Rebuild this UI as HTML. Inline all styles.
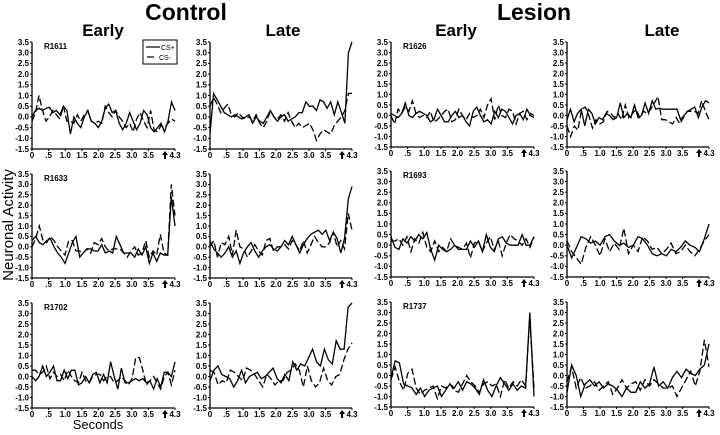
<!DOCTYPE html>
<html><head><meta charset="utf-8">
<style>
html,body{margin:0;padding:0;background:#fff;}
svg{display:block;font-family:"Liberation Sans",Arial,sans-serif;}
</style></head>
<body>
<svg id="fig" width="720" height="435" viewBox="0 0 720 435" xmlns="http://www.w3.org/2000/svg">
<text x="186" y="20" font-size="23" font-weight="bold" text-anchor="middle">Control</text>
<text x="534" y="20" font-size="23" font-weight="bold" text-anchor="middle">Lesion</text>
<text x="103" y="36" font-size="17" font-weight="bold" text-anchor="middle">Early</text>
<text x="283" y="36" font-size="17" font-weight="bold" text-anchor="middle">Late</text>
<text x="456" y="36" font-size="17" font-weight="bold" text-anchor="middle">Early</text>
<text x="662" y="36" font-size="17" font-weight="bold" text-anchor="middle">Late</text>
<text transform="translate(13,225) rotate(-90)" font-size="15" text-anchor="middle">Neuronal Activity</text>
<text x="98" y="429" font-size="13" text-anchor="middle">Seconds</text>
<g id="panels"></g>
<g>
<rect x="143" y="40" width="34" height="24" fill="#fff" stroke="#000" stroke-width="1"/>
<line x1="146" y1="47" x2="160" y2="47" stroke="#000" stroke-width="1.2"/>
<text x="161" y="50" font-size="7">CS+</text>
<line x1="147" y1="57" x2="154" y2="57" stroke="#000" stroke-width="1.2"/>
<text x="159" y="60" font-size="7">CS-</text>
</g>
</svg>
<script>
const yTicks = [3.5,3.0,2.5,2.0,1.5,1.0,0.5,0.0,-0.5,-1.0,-1.5];
const yTickLabels = ["3.5","3.0","2.5","2.0","1.5","1.0","0.5","0.0","-0.5","-1.0","-1.5"];
const xTicks = [0,0.5,1.0,1.5,2.0,2.5,3.0,3.5,4.3];
const xTickLabels = ["0",".5","1.0","1.5","2.0","2.5","3.0","3.5","4.3"];
const stimTime = 4.0;
const panelIds = ["R1611","","R1626","","R1633","","R1693","","R1702","","R1737",""];

const s1 = [0,0.3,0.4,0.3,0.4,0.45,0.2,0.3,0.1,0.5,0.3,-0.8,0,-0.3,-0.5,0,0.3,-0.2,-0.3,-0.5,-0.2,0.4,0.6,0.2,0.3,-0.3,-0.6,-0.3,0.2,-0.2,-0.6,-0.3,0.3,0.1,-0.5,-0.7,-0.5,-0.3,-0.7,-0.2,0.7,0.3];
const d1 = [-0.2,0.2,1.0,0.3,-0.2,0,0.3,0.1,-0.1,0.5,-0.2,-0.2,-0.3,0.1,-0.2,0.1,0.3,-0.2,-0.3,-0.2,-0.3,0.5,0.2,0,0.3,0,-0.2,-0.5,-0.3,-0.7,-0.1,0.2,-0.2,-0.5,0.3,-0.6,-0.7,-0.4,-0.5,-0.3,-0.1,-0.2];
const s2 = [-0.8,1.1,0.8,0.5,0.2,0.1,0,0.1,0,-0.1,0,0.1,-0.3,0,-0.2,-0.3,0,0.3,0,-0.2,0,0.1,-0.2,-0.1,0,0.2,0.2,0.7,0.5,0.5,0.3,0.8,0.7,0.4,0.7,0.1,0.7,0.2,-0.3,3.0,3.5];
const d2 = [0.5,0.9,0.6,0.2,0.4,0.6,0.1,0,0.2,0,-0.1,0,-0.2,0.1,-0.3,-0.5,-0.2,0.3,0,-0.1,0.1,-0.2,0.2,-0.2,-0.5,-0.3,-0.5,-0.4,-0.3,-0.6,-1.1,-0.8,-0.6,-0.7,-0.8,-0.4,-0.2,0,0.3,1.1,1.1];
const s3 = [0.3,0.5,0.2,0.1,0.3,0.4,0,-0.3,-0.5,-0.8,-0.3,0.2,0.5,-0.5,-0.3,-0.1,-0.1,-0.2,-0.2,0.1,-0.3,-0.2,-0.3,0.5,0.1,-0.3,-0.3,-0.3,-0.5,-0.1,-0.4,0,-0.8,-0.3,-0.7,-0.3,-0.4,-0.4,2.4,1.0];
const d3 = [0,0.4,1.0,0.3,0.2,0.5,0.3,0,-0.2,-0.4,0.3,0.3,-0.2,-0.2,-0.3,-0.1,-0.3,0.2,0.1,0.4,0,-0.2,-0.1,-0.1,-0.1,-0.3,-0.5,-0.2,0,-0.4,-0.3,0.3,-0.5,-0.2,-0.4,0.6,-0.3,-0.4,3.0,1.5];
const s4 = [0.3,-0.1,-0.3,-0.5,-0.3,0,-0.5,-0.2,-0.8,-0.3,0,0.2,-0.2,-0.5,-0.2,0,0.1,-0.1,-0.2,0,0.3,0.1,0.5,0.1,-0.3,0.1,0.4,0.6,0.7,0.8,0.6,0.8,0.3,0.7,0.4,-0.3,0.4,2.3,2.9];
const d4 = [0,0.3,-0.5,0.2,0.1,0.5,-0.4,0.8,0,-0.1,-0.5,-0.2,0.1,-0.2,-0.4,0.3,0.4,-0.2,0,0,0.1,-0.1,0.3,0.1,-0.2,0.3,-0.3,0.1,0.5,0.2,0,0,0.2,0.7,0,0.3,-0.1,1.6,0.8];
const s5 = [0,-0.2,0,0.5,0,0.2,0.5,-0.2,-0.2,0.3,-0.1,0.3,0.3,-0.4,-0.3,0,-0.3,0.1,0.2,-0.3,0.1,-0.3,0.7,0,-0.6,0.4,-0.3,-0.3,-0.2,-0.1,-0.2,-0.1,-0.3,-0.2,-0.6,-0.1,-0.5,0.2,0.2,0,0.7];
const d5 = [0.3,0.3,0.1,0.2,0.5,-0.1,0.2,0,0.1,-0.2,0.3,0,-0.2,-0.3,0.2,-0.2,-0.3,0,0.1,0.1,-0.2,0,0,-0.3,-0.2,0,-0.2,-0.4,-0.1,0.9,0.9,0.3,-0.4,-0.2,0,-0.3,-0.6,0,0.2,-0.4,0.3];
const s6 = [-0.2,0.3,0.5,0.1,0,-0.1,-0.5,-0.2,0.3,-0.3,0,0.1,0.2,-0.1,0,0.2,0.4,-0.1,-0.3,0.1,-0.2,0.7,0.3,0.6,0.5,0.9,1.3,0.7,0.5,1.3,0.8,0.6,1.7,1.3,1.3,3.3,3.5];
const d6 = [0.3,0.2,-0.4,-0.2,-0.3,0.3,0.2,0,-0.2,0.4,0.3,0.1,-0.2,-0.5,0.1,-0.1,-0.4,-0.2,-0.2,0.2,0.3,0.6,0.3,-0.5,0.5,-0.2,-0.5,-0.3,0.4,-0.2,-0.4,0,0.1,0.8,1.3,1.6];
const s7 = [0.1,0,-0.1,0.1,0.6,0,-0.1,0.1,0.2,0.1,0,-0.3,-0.2,0.3,0,-0.3,-0.3,0,0.2,-0.1,0,-0.3,-0.5,0.2,0.4,0,-0.3,-0.2,-0.4,0.2,-0.1,0.3,0.2,-0.1,-0.4,0,0.1,-0.2,0.3,0,-0.1];
const d7 = [0,-0.4,0.3,0.1,0.4,0.2,0.7,0.1,-0.1,0,-0.1,0.2,-0.3,-0.2,0,0.2,0.3,-0.3,-0.2,0.3,0,-0.2,0.1,-0.1,0,0.3,-0.1,0.5,0.8,-0.2,0.5,0,-0.1,0.3,0.2,-0.4,0.1,0.2,-0.2,0.1,0];
const s8 = [-0.2,0.3,-0.3,0.1,0.3,-0.5,0.3,0.1,-0.4,-0.1,-0.2,0.1,0,-0.2,-0.1,0.6,-0.1,0.1,-0.1,0.5,-0.1,0,0.6,0.1,0.7,0.3,0.35,0.3,0.3,0.3,0.3,0.3,-0.2,0,0.2,0.3,0.4,-0.1,0.4,0.7,0.6];
const d8 = [-0.5,-1.0,-0.5,-0.7,0.3,0.4,0,-0.6,-0.2,-0.4,-0.3,0.2,0.1,-0.1,0.1,-0.2,0.5,-0.1,0.1,0.3,-0.1,0.2,0.1,0.3,0.6,0.9,-0.2,-0.2,-0.3,-0.4,-0.1,-0.4,-0.1,0.2,0.2,0.2,0.1,0.7,0.2,-0.2];
const s9 = [0.4,-0.1,-0.2,0.3,0.1,0.4,0.2,0.5,0.3,0.6,-0.2,-0.7,0,-0.2,-0.3,-0.2,0,-0.2,-0.2,-0.2,0.2,-0.1,0.2,-0.3,0.5,-0.1,-0.3,0.3,0.4,0.1,0,0,0,0.5,0,0,0.4];
const d9 = [0.2,0.2,0.3,0,0.4,-0.3,0.3,0.1,0.6,-0.1,-0.3,0.2,-0.3,-0.1,-0.3,0.3,0,-0.1,-0.2,0.1,-0.6,0.1,0.2,-0.3,0.1,0.4,-0.2,0.2,-0.5,0.1,0.5,0.3,0.2,0,0.3,-0.1,0.4];
const s10 = [0,-0.6,-0.1,0.4,0.3,0.1,0.2,0,0.4,0.5,0.2,0,0.1,-0.1,0,0.4,0.3,0,-0.4,-0.5,-0.4,-0.5,-0.2,-0.3,-0.1,0.2,0,-0.1,-0.3,0.3,1.0];
const d10 = [0.2,-0.3,-0.6,-0.9,-0.1,0.4,0,-0.5,0.3,-0.3,0.1,-0.2,0.8,-0.4,0,-0.3,0.4,0.2,-0.2,-0.1,-0.4,-0.2,0.1,-0.4,-0.3,0,-0.3,-0.5,-0.2,0.2,0.5];
const s11 = [-0.1,0.7,0.6,-0.4,-0.5,-0.6,-0.9,-0.6,-1.0,-0.7,-0.6,-0.5,-1.0,-0.7,-0.4,-0.6,-0.3,-0.7,-0.3,-0.4,-0.6,-0.9,-0.2,-0.7,-1.0,-0.5,-0.1,-0.4,-0.7,-0.4,-0.7,-0.5,-0.6,3.0,-1.0];
const d11 = [-0.2,0.4,-0.3,-0.7,0.1,0.3,-0.6,-0.9,-0.7,-0.6,-0.5,-1.1,-0.5,-0.6,-0.4,-0.7,-0.8,-0.4,0,-0.3,-0.5,-0.8,-0.4,-0.3,-0.5,-0.4,-1.0,-0.2,-0.6,-0.3,-0.5,-0.2,-0.5,2.8,-0.6];
const s12 = [-0.8,0.5,0,-1.0,-0.4,-0.2,-0.5,-0.3,-0.6,-0.4,-0.5,-0.7,-1.0,-0.6,-0.8,-0.8,-0.3,-0.6,-0.4,0.4,-0.5,-0.3,-0.6,-0.1,0.2,-0.1,0.3,0.1,0,0.3,0.5,1.5];
const d12 = [-0.3,0.4,-0.6,-0.1,-0.6,-0.5,-0.3,-0.7,-0.5,-0.3,-0.9,-0.6,-0.2,-0.6,-0.4,-0.3,-0.7,-0.2,-0.5,-0.2,-0.4,-0.6,-0.6,-0.5,-1.0,-0.6,-0.2,0.2,-0.5,0.2,1.7,0.4];

const solidSeries = [s1,s2,s7,s8,s3,s4,s9,s10,s5,s6,s11,s12];
const dashedSeries = [d1,d2,d7,d8,d3,d4,d9,d10,d5,d6,d11,d12];

const NS = "http://www.w3.org/2000/svg";
const colL = [32,210,391,567], colR = [175,352,534,709];
const rowT = [[42,42,42,42],[174,174,171,171],[303,303,302,302]];
const rowB = [[149,149,147,147],[278,278,277,277],[408,408,407,407]];
const root = document.getElementById('panels');
function mk(tag, attrs, parent){const e=document.createElementNS(NS,tag);for(const k in attrs)e.setAttribute(k,attrs[k]);parent.appendChild(e);return e;}

for(let r=0;r<3;r++)for(let c=0;c<4;c++){
  const idx=r*4+c;
  const x0=colL[c],x1=colR[c],y0=rowT[r][c],y1=rowB[r][c];
  const xs=v=>x0+(v/4.3)*(x1-x0);
  const ys=v=>y1-((v+1.5)/5)*(y1-y0);
  const g=mk('g',{},root);
  
  
  const ya=mk('line',{x1:x0,y1:y0,x2:x0,y2:y1,stroke:'#000','stroke-width':1.3},g);
  
  
  const xa=mk('line',{x1:x0,y1:y1,x2:x1,y2:y1,stroke:'#000','stroke-width':1.3},g);
  
  
  yTicks.forEach((t,i)=>{
    mk('line',{x1:x0-2,y1:ys(t),x2:x0,y2:ys(t),stroke:'#000','stroke-width':1},g);
    const tx=mk('text',{x:x0-3,y:ys(t)+2.8,'font-size':8,'font-weight':'bold','text-anchor':'end'},g);
    
    
    tx.textContent=yTickLabels[i];
  });
  xTicks.forEach((t,i)=>{
    mk('line',{x1:xs(t),y1:y1,x2:xs(t),y2:y1+2,stroke:'#000','stroke-width':1},g);
    const tx=mk('text',{x:xs(t),y:y1+9,'font-size':8,'font-weight':'bold','text-anchor':'middle'},g);
    
    
    tx.textContent=xTickLabels[i];
  });
  const ax=xs(stimTime);
  const ar=mk('path',{d:`M${ax} ${y1+2} L${ax-3} ${y1+6} L${ax-1} ${y1+6} L${ax-1} ${y1+10} L${ax+1} ${y1+10} L${ax+1} ${y1+6} L${ax+3} ${y1+6} Z`,fill:'#000'},g);
  
  
  if(panelIds[idx]){
    const t=mk('text',{x:x0+12,y:y0+7,'font-size':8,'font-weight':'bold'},g);
    
    
    t.textContent=panelIds[idx];
  }
  const pts=(a)=>a.map((v,i)=>xs(i*4.3/(a.length-1)).toFixed(1)+','+ys(v).toFixed(1)).join(' ');
  const dl=mk('polyline',{points:pts(dashedSeries[idx]),fill:'none',stroke:'#000','stroke-width':1.3,'stroke-dasharray':'7,3'},g);
  
  
  const sl=mk('polyline',{points:pts(solidSeries[idx]),fill:'none',stroke:'#000','stroke-width':1.3},g);
  
  
}
</script>
</body></html>
